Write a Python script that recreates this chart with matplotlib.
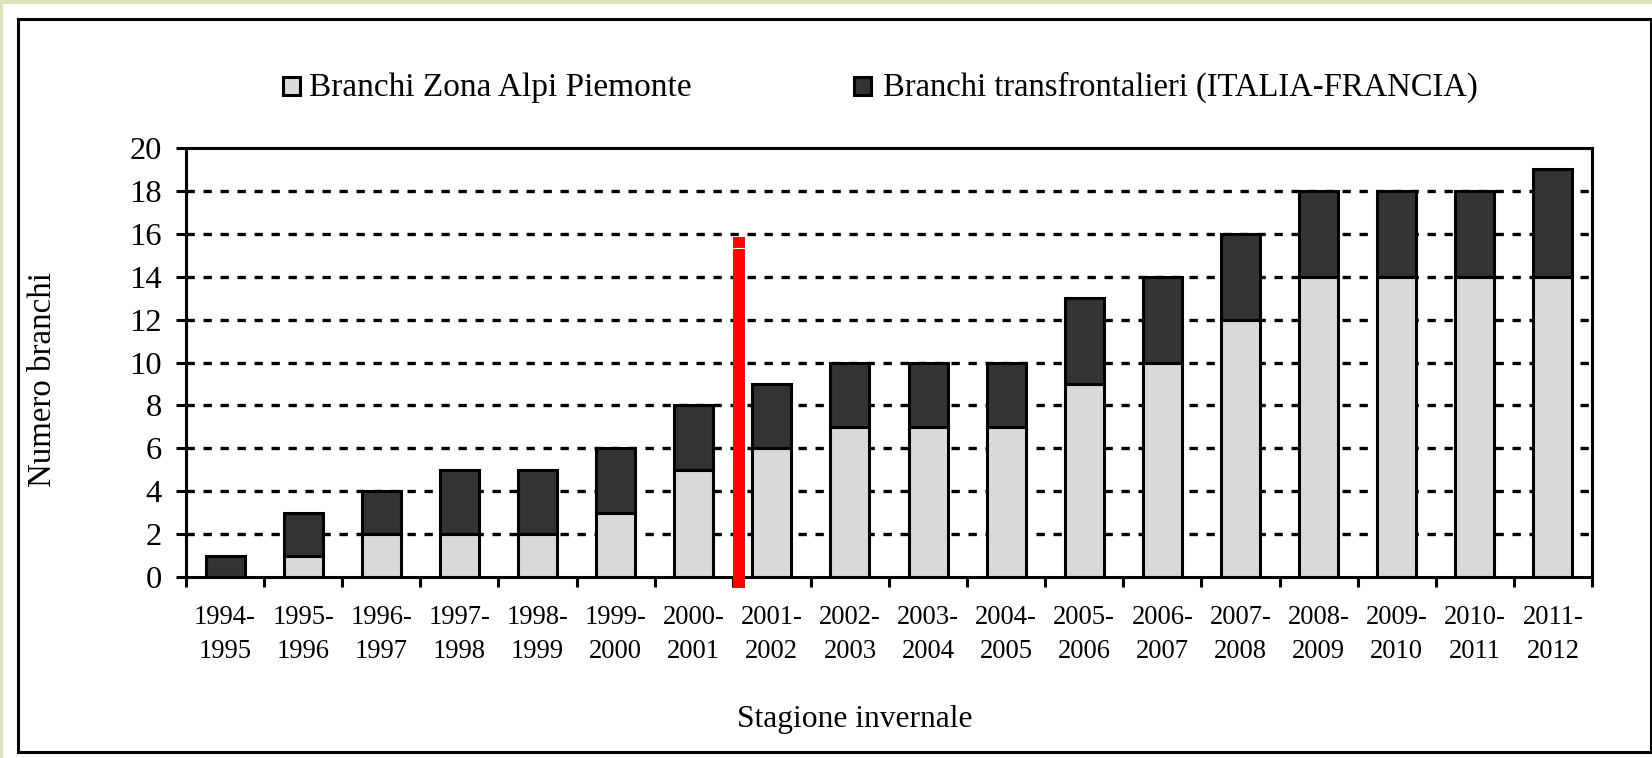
import numpy as np
import matplotlib
matplotlib.use("Agg")
import matplotlib.pyplot as plt
from matplotlib.patches import Rectangle

# ---- data ----
seasons = ["1994-\n1995", "1995-\n1996", "1996-\n1997", "1997-\n1998", "1998-\n1999",
           "1999-\n2000", "2000-\n2001", "2001-\n2002", "2002-\n2003", "2003-\n2004",
           "2004-\n2005", "2005-\n2006", "2006-\n2007", "2007-\n2008", "2008-\n2009",
           "2009-\n2010", "2010-\n2011", "2011-\n2012"]
piemonte = [0, 1, 2, 2, 2, 3, 5, 6, 7, 7, 7, 9, 10, 12, 14, 14, 14, 14]
transfrontalieri = [1, 2, 2, 3, 3, 3, 3, 3, 3, 3, 3, 4, 4, 4, 4, 4, 4, 5]
yticks = list(range(0, 21, 2))
label_piemonte = "Branchi Zona Alpi Piemonte"
label_trans = "Branchi transfrontalieri (ITALIA-FRANCIA)"
xlabel = "Stagione invernale"
ylabel = "Numero branchi"
red_line_x = 6.58
red_line_top = 15.85

W, H = 1652, 758
plt.rcParams['font.family'] = ['Liberation Serif', 'DejaVu Serif']

fig = plt.figure(figsize=(W / 100, H / 100), dpi=100)
fig.patch.set_facecolor('white')

def fx(px):
    return px / W

def fy(py):
    return 1 - py / H

# green slide background strips
green = '#d8e4bc'
fig.patches.append(Rectangle((0, fy(4)), 1, 4 / H, transform=fig.transFigure,
                             facecolor=green, edgecolor='none', zorder=0))
fig.patches.append(Rectangle((0, 0), 3 / W, 1, transform=fig.transFigure,
                             facecolor=green, edgecolor='none', zorder=0))
# outer chart box
fig.patches.append(Rectangle((fx(18), fy(752)), (1651 - 18) / W, (752 - 19) / H,
                             transform=fig.transFigure, facecolor='white',
                             edgecolor='black', linewidth=2.2, zorder=1))

ax = fig.add_axes([fx(186), fy(577), (1592 - 186) / W, (577 - 148) / H])
ax.set_facecolor('white')
ax.set_zorder(2)

x = np.arange(len(seasons))
ax.bar(x, piemonte, width=0.5, color='#d9d9d9', edgecolor='black', linewidth=2.2,
       zorder=3, label=label_piemonte)
ax.bar(x, transfrontalieri, width=0.5, bottom=piemonte, color='#333333',
       edgecolor='black', linewidth=2.2, zorder=3, label=label_trans)

ax.set_xlim(-0.5, len(seasons) - 0.5)
ax.set_ylim(0, 20)

# grid
for yv in yticks[1:-1]:
    ax.axhline(yv, color='black', linewidth=2.4, linestyle=(0, (2.5, 2.6)), zorder=1)

ax.set_yticks(yticks)
ax.set_yticklabels([str(v) for v in yticks], fontsize=23.4)
ax.tick_params(axis='y', direction='out', length=7.2, width=2.2, pad=10)

ax.set_xticks(np.arange(len(seasons) + 1) - 0.5)
ax.set_xticklabels([])
ax.set_xticks(x, minor=True)
ax.set_xticklabels(seasons, minor=True, fontsize=19.2, linespacing=1.46)
ax.tick_params(axis='x', which='major', direction='out', length=7.2, width=2.2)
ax.tick_params(axis='x', which='minor', length=0, pad=20)

for sp in ax.spines.values():
    sp.set_linewidth(2.2)
    sp.set_color('black')
    sp.set_zorder(4)

# red separator line
ax.plot([red_line_x, red_line_x], [-0.5, red_line_top], color='#ff0000',
        linewidth=8.6, solid_capstyle='butt', clip_on=False, zorder=5)
ax.plot([red_line_x - 0.08, red_line_x + 0.08], [15.34, 15.34], color='white',
        linewidth=0.8, clip_on=False, zorder=6)

# axis labels
fig.text(fx(855), fy(720), xlabel, fontsize=22.7, ha='center', va='center')
fig.text(fx(43), fy(380), ylabel, fontsize=23.7, rotation=90, ha='center', va='center')

# legend (manual)
for (x0, col, lab, tx, fs) in [(281, '#d9d9d9', label_piemonte, 309, 24.0),
                               (852, '#333333', label_trans, 883, 23.5)]:
    fig.patches.append(Rectangle((fx(x0 + 1.5), fy(94.5)), 17 / W, 17 / H,
                                 transform=fig.transFigure, facecolor=col,
                                 edgecolor='black', linewidth=2.2, zorder=3))
    fig.text(fx(tx), fy(96), lab, fontsize=fs, ha='left', va='baseline')

fig.savefig('out.png', dpi=100, facecolor=fig.get_facecolor())
